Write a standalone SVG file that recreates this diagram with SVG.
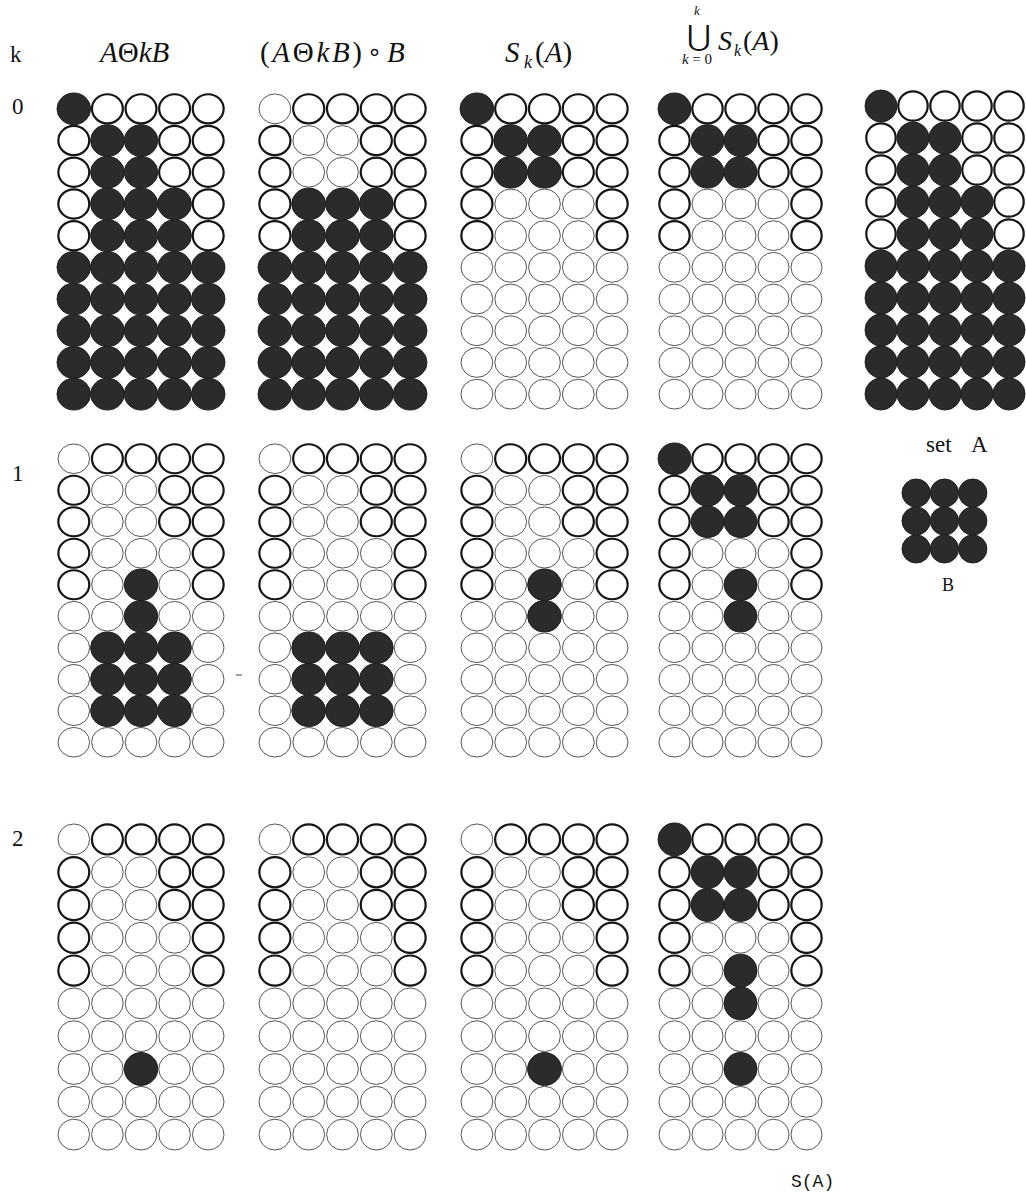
<svg xmlns="http://www.w3.org/2000/svg" xmlns:xlink="http://www.w3.org/1999/xlink" width="1026" height="1193" viewBox="0 0 1026 1193">
<style>
.dk{fill:#2b2b2b;stroke:#1e1e1e;stroke-width:1;vector-effect:non-scaling-stroke}
.tk{fill:#fff;stroke:#151515;stroke-width:2.2;vector-effect:non-scaling-stroke}
.tn{fill:#fff;stroke:#555;stroke-width:1;vector-effect:non-scaling-stroke}
text{font-family:"Liberation Serif","Times New Roman",serif;fill:#111}
.lab{font-size:23px}
.it{font-style:italic}
.up{font-style:normal}
</style>
<defs>
<circle id="d" cx=".5" cy=".5" r=".5" class="dk"/>
<circle id="t" cx=".5" cy=".5" r=".46" class="tk"/>
<circle id="n" cx=".5" cy=".5" r=".47" class="tn"/>
</defs>
<rect width="1026" height="1193" fill="#fff"/>
<g id="labels">
<text x="10" y="62" class="lab">k</text>
<text x="12" y="114" class="lab">0</text>
<text x="12" y="481" class="lab">1</text>
<text x="12" y="846" class="lab">2</text>
<text x="100" y="62" font-size="29" class="it">A<tspan class="up">Θ</tspan>kB</text>
<text x="260" y="62" font-size="29" class="it" textLength="102"><tspan class="up">(</tspan>A<tspan class="up">Θ</tspan>kB<tspan class="up">)</tspan></text>
<text x="367" y="60" font-size="24" style="font-family:'DejaVu Sans',sans-serif">∘</text>
<text x="387" y="62" font-size="29" class="it">B</text>
<text x="505" y="62" font-size="29" class="it">S</text>
<text x="524" y="68" font-size="18" class="it">k</text>
<text x="535" y="62" font-size="29"><tspan>(</tspan><tspan class="it">A</tspan><tspan>)</tspan></text>
<text x="699" y="46" font-size="29" text-anchor="middle" style="font-family:'DejaVu Serif',serif">⋃</text>
<text x="694" y="15" font-size="13" class="it">k</text>
<text x="682" y="64" font-size="15" textLength="30"><tspan class="it">k</tspan>=0</text>
<text x="718" y="50" font-size="28" class="it">S</text>
<text x="734" y="56" font-size="16" class="it">k</text>
<text x="743" y="50" font-size="28"><tspan>(</tspan><tspan class="it">A</tspan><tspan>)</tspan></text>
<text x="926" y="452" font-size="23">set</text>
<text x="971" y="452" font-size="23">A</text>
<text x="948" y="591" font-size="18" text-anchor="middle">B</text>
<text x="791" y="1187" font-size="18" style="font-family:'Liberation Mono','Courier New',monospace">S(A)</text>
</g>
<line x1="236" y1="675" x2="242" y2="675" stroke="#444" stroke-width="1"/>

<g id="g0r0" transform="translate(57,93) scale(33.6,31.7)">
<use href="#d" x="0" y="0"/><use href="#t" x="1" y="0"/><use href="#t" x="2" y="0"/><use href="#t" x="3" y="0"/><use href="#t" x="4" y="0"/>
<use href="#t" x="0" y="1"/><use href="#d" x="1" y="1"/><use href="#d" x="2" y="1"/><use href="#t" x="3" y="1"/><use href="#t" x="4" y="1"/>
<use href="#t" x="0" y="2"/><use href="#d" x="1" y="2"/><use href="#d" x="2" y="2"/><use href="#t" x="3" y="2"/><use href="#t" x="4" y="2"/>
<use href="#t" x="0" y="3"/><use href="#d" x="1" y="3"/><use href="#d" x="2" y="3"/><use href="#d" x="3" y="3"/><use href="#t" x="4" y="3"/>
<use href="#t" x="0" y="4"/><use href="#d" x="1" y="4"/><use href="#d" x="2" y="4"/><use href="#d" x="3" y="4"/><use href="#t" x="4" y="4"/>
<use href="#d" x="0" y="5"/><use href="#d" x="1" y="5"/><use href="#d" x="2" y="5"/><use href="#d" x="3" y="5"/><use href="#d" x="4" y="5"/>
<use href="#d" x="0" y="6"/><use href="#d" x="1" y="6"/><use href="#d" x="2" y="6"/><use href="#d" x="3" y="6"/><use href="#d" x="4" y="6"/>
<use href="#d" x="0" y="7"/><use href="#d" x="1" y="7"/><use href="#d" x="2" y="7"/><use href="#d" x="3" y="7"/><use href="#d" x="4" y="7"/>
<use href="#d" x="0" y="8"/><use href="#d" x="1" y="8"/><use href="#d" x="2" y="8"/><use href="#d" x="3" y="8"/><use href="#d" x="4" y="8"/>
<use href="#d" x="0" y="9"/><use href="#d" x="1" y="9"/><use href="#d" x="2" y="9"/><use href="#d" x="3" y="9"/><use href="#d" x="4" y="9"/>
</g>

<g id="g1r0" transform="translate(258,93) scale(33.8,31.7)">
<use href="#n" x="0" y="0"/><use href="#t" x="1" y="0"/><use href="#t" x="2" y="0"/><use href="#t" x="3" y="0"/><use href="#t" x="4" y="0"/>
<use href="#t" x="0" y="1"/><use href="#n" x="1" y="1"/><use href="#n" x="2" y="1"/><use href="#t" x="3" y="1"/><use href="#t" x="4" y="1"/>
<use href="#t" x="0" y="2"/><use href="#n" x="1" y="2"/><use href="#n" x="2" y="2"/><use href="#t" x="3" y="2"/><use href="#t" x="4" y="2"/>
<use href="#t" x="0" y="3"/><use href="#d" x="1" y="3"/><use href="#d" x="2" y="3"/><use href="#d" x="3" y="3"/><use href="#t" x="4" y="3"/>
<use href="#t" x="0" y="4"/><use href="#d" x="1" y="4"/><use href="#d" x="2" y="4"/><use href="#d" x="3" y="4"/><use href="#t" x="4" y="4"/>
<use href="#d" x="0" y="5"/><use href="#d" x="1" y="5"/><use href="#d" x="2" y="5"/><use href="#d" x="3" y="5"/><use href="#d" x="4" y="5"/>
<use href="#d" x="0" y="6"/><use href="#d" x="1" y="6"/><use href="#d" x="2" y="6"/><use href="#d" x="3" y="6"/><use href="#d" x="4" y="6"/>
<use href="#d" x="0" y="7"/><use href="#d" x="1" y="7"/><use href="#d" x="2" y="7"/><use href="#d" x="3" y="7"/><use href="#d" x="4" y="7"/>
<use href="#d" x="0" y="8"/><use href="#d" x="1" y="8"/><use href="#d" x="2" y="8"/><use href="#d" x="3" y="8"/><use href="#d" x="4" y="8"/>
<use href="#d" x="0" y="9"/><use href="#d" x="1" y="9"/><use href="#d" x="2" y="9"/><use href="#d" x="3" y="9"/><use href="#d" x="4" y="9"/>
</g>

<g id="g2r0" transform="translate(460,93) scale(33.8,31.7)">
<use href="#d" x="0" y="0"/><use href="#t" x="1" y="0"/><use href="#t" x="2" y="0"/><use href="#t" x="3" y="0"/><use href="#t" x="4" y="0"/>
<use href="#t" x="0" y="1"/><use href="#d" x="1" y="1"/><use href="#d" x="2" y="1"/><use href="#t" x="3" y="1"/><use href="#t" x="4" y="1"/>
<use href="#t" x="0" y="2"/><use href="#d" x="1" y="2"/><use href="#d" x="2" y="2"/><use href="#t" x="3" y="2"/><use href="#t" x="4" y="2"/>
<use href="#t" x="0" y="3"/><use href="#n" x="1" y="3"/><use href="#n" x="2" y="3"/><use href="#n" x="3" y="3"/><use href="#t" x="4" y="3"/>
<use href="#t" x="0" y="4"/><use href="#n" x="1" y="4"/><use href="#n" x="2" y="4"/><use href="#n" x="3" y="4"/><use href="#t" x="4" y="4"/>
<use href="#n" x="0" y="5"/><use href="#n" x="1" y="5"/><use href="#n" x="2" y="5"/><use href="#n" x="3" y="5"/><use href="#n" x="4" y="5"/>
<use href="#n" x="0" y="6"/><use href="#n" x="1" y="6"/><use href="#n" x="2" y="6"/><use href="#n" x="3" y="6"/><use href="#n" x="4" y="6"/>
<use href="#n" x="0" y="7"/><use href="#n" x="1" y="7"/><use href="#n" x="2" y="7"/><use href="#n" x="3" y="7"/><use href="#n" x="4" y="7"/>
<use href="#n" x="0" y="8"/><use href="#n" x="1" y="8"/><use href="#n" x="2" y="8"/><use href="#n" x="3" y="8"/><use href="#n" x="4" y="8"/>
<use href="#n" x="0" y="9"/><use href="#n" x="1" y="9"/><use href="#n" x="2" y="9"/><use href="#n" x="3" y="9"/><use href="#n" x="4" y="9"/>
</g>

<g id="g3r0" transform="translate(658,93) scale(33,31.7)">
<use href="#d" x="0" y="0"/><use href="#t" x="1" y="0"/><use href="#t" x="2" y="0"/><use href="#t" x="3" y="0"/><use href="#t" x="4" y="0"/>
<use href="#t" x="0" y="1"/><use href="#d" x="1" y="1"/><use href="#d" x="2" y="1"/><use href="#t" x="3" y="1"/><use href="#t" x="4" y="1"/>
<use href="#t" x="0" y="2"/><use href="#d" x="1" y="2"/><use href="#d" x="2" y="2"/><use href="#t" x="3" y="2"/><use href="#t" x="4" y="2"/>
<use href="#t" x="0" y="3"/><use href="#n" x="1" y="3"/><use href="#n" x="2" y="3"/><use href="#n" x="3" y="3"/><use href="#t" x="4" y="3"/>
<use href="#t" x="0" y="4"/><use href="#n" x="1" y="4"/><use href="#n" x="2" y="4"/><use href="#n" x="3" y="4"/><use href="#t" x="4" y="4"/>
<use href="#n" x="0" y="5"/><use href="#n" x="1" y="5"/><use href="#n" x="2" y="5"/><use href="#n" x="3" y="5"/><use href="#n" x="4" y="5"/>
<use href="#n" x="0" y="6"/><use href="#n" x="1" y="6"/><use href="#n" x="2" y="6"/><use href="#n" x="3" y="6"/><use href="#n" x="4" y="6"/>
<use href="#n" x="0" y="7"/><use href="#n" x="1" y="7"/><use href="#n" x="2" y="7"/><use href="#n" x="3" y="7"/><use href="#n" x="4" y="7"/>
<use href="#n" x="0" y="8"/><use href="#n" x="1" y="8"/><use href="#n" x="2" y="8"/><use href="#n" x="3" y="8"/><use href="#n" x="4" y="8"/>
<use href="#n" x="0" y="9"/><use href="#n" x="1" y="9"/><use href="#n" x="2" y="9"/><use href="#n" x="3" y="9"/><use href="#n" x="4" y="9"/>
</g>

<g id="setA" transform="translate(865,90) scale(32,32)">
<use href="#d" x="0" y="0"/><use href="#t" x="1" y="0"/><use href="#t" x="2" y="0"/><use href="#t" x="3" y="0"/><use href="#t" x="4" y="0"/>
<use href="#t" x="0" y="1"/><use href="#d" x="1" y="1"/><use href="#d" x="2" y="1"/><use href="#t" x="3" y="1"/><use href="#t" x="4" y="1"/>
<use href="#t" x="0" y="2"/><use href="#d" x="1" y="2"/><use href="#d" x="2" y="2"/><use href="#t" x="3" y="2"/><use href="#t" x="4" y="2"/>
<use href="#t" x="0" y="3"/><use href="#d" x="1" y="3"/><use href="#d" x="2" y="3"/><use href="#d" x="3" y="3"/><use href="#t" x="4" y="3"/>
<use href="#t" x="0" y="4"/><use href="#d" x="1" y="4"/><use href="#d" x="2" y="4"/><use href="#d" x="3" y="4"/><use href="#t" x="4" y="4"/>
<use href="#d" x="0" y="5"/><use href="#d" x="1" y="5"/><use href="#d" x="2" y="5"/><use href="#d" x="3" y="5"/><use href="#d" x="4" y="5"/>
<use href="#d" x="0" y="6"/><use href="#d" x="1" y="6"/><use href="#d" x="2" y="6"/><use href="#d" x="3" y="6"/><use href="#d" x="4" y="6"/>
<use href="#d" x="0" y="7"/><use href="#d" x="1" y="7"/><use href="#d" x="2" y="7"/><use href="#d" x="3" y="7"/><use href="#d" x="4" y="7"/>
<use href="#d" x="0" y="8"/><use href="#d" x="1" y="8"/><use href="#d" x="2" y="8"/><use href="#d" x="3" y="8"/><use href="#d" x="4" y="8"/>
<use href="#d" x="0" y="9"/><use href="#d" x="1" y="9"/><use href="#d" x="2" y="9"/><use href="#d" x="3" y="9"/><use href="#d" x="4" y="9"/>
</g>

<g id="setB" transform="translate(902,479) scale(28.3,28)">
<use href="#d" x="0" y="0"/><use href="#d" x="1" y="0"/><use href="#d" x="2" y="0"/>
<use href="#d" x="0" y="1"/><use href="#d" x="1" y="1"/><use href="#d" x="2" y="1"/>
<use href="#d" x="0" y="2"/><use href="#d" x="1" y="2"/><use href="#d" x="2" y="2"/>
</g>

<g id="g0r1" transform="translate(57,443) scale(33.6,31.5)">
<use href="#n" x="0" y="0"/><use href="#t" x="1" y="0"/><use href="#t" x="2" y="0"/><use href="#t" x="3" y="0"/><use href="#t" x="4" y="0"/>
<use href="#t" x="0" y="1"/><use href="#n" x="1" y="1"/><use href="#n" x="2" y="1"/><use href="#t" x="3" y="1"/><use href="#t" x="4" y="1"/>
<use href="#t" x="0" y="2"/><use href="#n" x="1" y="2"/><use href="#n" x="2" y="2"/><use href="#t" x="3" y="2"/><use href="#t" x="4" y="2"/>
<use href="#t" x="0" y="3"/><use href="#n" x="1" y="3"/><use href="#n" x="2" y="3"/><use href="#n" x="3" y="3"/><use href="#t" x="4" y="3"/>
<use href="#t" x="0" y="4"/><use href="#n" x="1" y="4"/><use href="#d" x="2" y="4"/><use href="#n" x="3" y="4"/><use href="#t" x="4" y="4"/>
<use href="#n" x="0" y="5"/><use href="#n" x="1" y="5"/><use href="#d" x="2" y="5"/><use href="#n" x="3" y="5"/><use href="#n" x="4" y="5"/>
<use href="#n" x="0" y="6"/><use href="#d" x="1" y="6"/><use href="#d" x="2" y="6"/><use href="#d" x="3" y="6"/><use href="#n" x="4" y="6"/>
<use href="#n" x="0" y="7"/><use href="#d" x="1" y="7"/><use href="#d" x="2" y="7"/><use href="#d" x="3" y="7"/><use href="#n" x="4" y="7"/>
<use href="#n" x="0" y="8"/><use href="#d" x="1" y="8"/><use href="#d" x="2" y="8"/><use href="#d" x="3" y="8"/><use href="#n" x="4" y="8"/>
<use href="#n" x="0" y="9"/><use href="#n" x="1" y="9"/><use href="#n" x="2" y="9"/><use href="#n" x="3" y="9"/><use href="#n" x="4" y="9"/>
</g>

<g id="g1r1" transform="translate(258,443) scale(33.8,31.5)">
<use href="#n" x="0" y="0"/><use href="#t" x="1" y="0"/><use href="#t" x="2" y="0"/><use href="#t" x="3" y="0"/><use href="#t" x="4" y="0"/>
<use href="#t" x="0" y="1"/><use href="#n" x="1" y="1"/><use href="#n" x="2" y="1"/><use href="#t" x="3" y="1"/><use href="#t" x="4" y="1"/>
<use href="#t" x="0" y="2"/><use href="#n" x="1" y="2"/><use href="#n" x="2" y="2"/><use href="#t" x="3" y="2"/><use href="#t" x="4" y="2"/>
<use href="#t" x="0" y="3"/><use href="#n" x="1" y="3"/><use href="#n" x="2" y="3"/><use href="#n" x="3" y="3"/><use href="#t" x="4" y="3"/>
<use href="#t" x="0" y="4"/><use href="#n" x="1" y="4"/><use href="#n" x="2" y="4"/><use href="#n" x="3" y="4"/><use href="#t" x="4" y="4"/>
<use href="#n" x="0" y="5"/><use href="#n" x="1" y="5"/><use href="#n" x="2" y="5"/><use href="#n" x="3" y="5"/><use href="#n" x="4" y="5"/>
<use href="#n" x="0" y="6"/><use href="#d" x="1" y="6"/><use href="#d" x="2" y="6"/><use href="#d" x="3" y="6"/><use href="#n" x="4" y="6"/>
<use href="#n" x="0" y="7"/><use href="#d" x="1" y="7"/><use href="#d" x="2" y="7"/><use href="#d" x="3" y="7"/><use href="#n" x="4" y="7"/>
<use href="#n" x="0" y="8"/><use href="#d" x="1" y="8"/><use href="#d" x="2" y="8"/><use href="#d" x="3" y="8"/><use href="#n" x="4" y="8"/>
<use href="#n" x="0" y="9"/><use href="#n" x="1" y="9"/><use href="#n" x="2" y="9"/><use href="#n" x="3" y="9"/><use href="#n" x="4" y="9"/>
</g>

<g id="g2r1" transform="translate(460,443) scale(33.8,31.5)">
<use href="#n" x="0" y="0"/><use href="#t" x="1" y="0"/><use href="#t" x="2" y="0"/><use href="#t" x="3" y="0"/><use href="#t" x="4" y="0"/>
<use href="#t" x="0" y="1"/><use href="#n" x="1" y="1"/><use href="#n" x="2" y="1"/><use href="#t" x="3" y="1"/><use href="#t" x="4" y="1"/>
<use href="#t" x="0" y="2"/><use href="#n" x="1" y="2"/><use href="#n" x="2" y="2"/><use href="#t" x="3" y="2"/><use href="#t" x="4" y="2"/>
<use href="#t" x="0" y="3"/><use href="#n" x="1" y="3"/><use href="#n" x="2" y="3"/><use href="#n" x="3" y="3"/><use href="#t" x="4" y="3"/>
<use href="#t" x="0" y="4"/><use href="#n" x="1" y="4"/><use href="#d" x="2" y="4"/><use href="#n" x="3" y="4"/><use href="#t" x="4" y="4"/>
<use href="#n" x="0" y="5"/><use href="#n" x="1" y="5"/><use href="#d" x="2" y="5"/><use href="#n" x="3" y="5"/><use href="#n" x="4" y="5"/>
<use href="#n" x="0" y="6"/><use href="#n" x="1" y="6"/><use href="#n" x="2" y="6"/><use href="#n" x="3" y="6"/><use href="#n" x="4" y="6"/>
<use href="#n" x="0" y="7"/><use href="#n" x="1" y="7"/><use href="#n" x="2" y="7"/><use href="#n" x="3" y="7"/><use href="#n" x="4" y="7"/>
<use href="#n" x="0" y="8"/><use href="#n" x="1" y="8"/><use href="#n" x="2" y="8"/><use href="#n" x="3" y="8"/><use href="#n" x="4" y="8"/>
<use href="#n" x="0" y="9"/><use href="#n" x="1" y="9"/><use href="#n" x="2" y="9"/><use href="#n" x="3" y="9"/><use href="#n" x="4" y="9"/>
</g>

<g id="g3r1" transform="translate(658,443) scale(33,31.5)">
<use href="#d" x="0" y="0"/><use href="#t" x="1" y="0"/><use href="#t" x="2" y="0"/><use href="#t" x="3" y="0"/><use href="#t" x="4" y="0"/>
<use href="#t" x="0" y="1"/><use href="#d" x="1" y="1"/><use href="#d" x="2" y="1"/><use href="#t" x="3" y="1"/><use href="#t" x="4" y="1"/>
<use href="#t" x="0" y="2"/><use href="#d" x="1" y="2"/><use href="#d" x="2" y="2"/><use href="#t" x="3" y="2"/><use href="#t" x="4" y="2"/>
<use href="#t" x="0" y="3"/><use href="#n" x="1" y="3"/><use href="#n" x="2" y="3"/><use href="#n" x="3" y="3"/><use href="#t" x="4" y="3"/>
<use href="#t" x="0" y="4"/><use href="#n" x="1" y="4"/><use href="#d" x="2" y="4"/><use href="#n" x="3" y="4"/><use href="#t" x="4" y="4"/>
<use href="#n" x="0" y="5"/><use href="#n" x="1" y="5"/><use href="#d" x="2" y="5"/><use href="#n" x="3" y="5"/><use href="#n" x="4" y="5"/>
<use href="#n" x="0" y="6"/><use href="#n" x="1" y="6"/><use href="#n" x="2" y="6"/><use href="#n" x="3" y="6"/><use href="#n" x="4" y="6"/>
<use href="#n" x="0" y="7"/><use href="#n" x="1" y="7"/><use href="#n" x="2" y="7"/><use href="#n" x="3" y="7"/><use href="#n" x="4" y="7"/>
<use href="#n" x="0" y="8"/><use href="#n" x="1" y="8"/><use href="#n" x="2" y="8"/><use href="#n" x="3" y="8"/><use href="#n" x="4" y="8"/>
<use href="#n" x="0" y="9"/><use href="#n" x="1" y="9"/><use href="#n" x="2" y="9"/><use href="#n" x="3" y="9"/><use href="#n" x="4" y="9"/>
</g>

<g id="g0r2" transform="translate(57,823) scale(33.6,32.8)">
<use href="#n" x="0" y="0"/><use href="#t" x="1" y="0"/><use href="#t" x="2" y="0"/><use href="#t" x="3" y="0"/><use href="#t" x="4" y="0"/>
<use href="#t" x="0" y="1"/><use href="#n" x="1" y="1"/><use href="#n" x="2" y="1"/><use href="#t" x="3" y="1"/><use href="#t" x="4" y="1"/>
<use href="#t" x="0" y="2"/><use href="#n" x="1" y="2"/><use href="#n" x="2" y="2"/><use href="#t" x="3" y="2"/><use href="#t" x="4" y="2"/>
<use href="#t" x="0" y="3"/><use href="#n" x="1" y="3"/><use href="#n" x="2" y="3"/><use href="#n" x="3" y="3"/><use href="#t" x="4" y="3"/>
<use href="#t" x="0" y="4"/><use href="#n" x="1" y="4"/><use href="#n" x="2" y="4"/><use href="#n" x="3" y="4"/><use href="#t" x="4" y="4"/>
<use href="#n" x="0" y="5"/><use href="#n" x="1" y="5"/><use href="#n" x="2" y="5"/><use href="#n" x="3" y="5"/><use href="#n" x="4" y="5"/>
<use href="#n" x="0" y="6"/><use href="#n" x="1" y="6"/><use href="#n" x="2" y="6"/><use href="#n" x="3" y="6"/><use href="#n" x="4" y="6"/>
<use href="#n" x="0" y="7"/><use href="#n" x="1" y="7"/><use href="#d" x="2" y="7"/><use href="#n" x="3" y="7"/><use href="#n" x="4" y="7"/>
<use href="#n" x="0" y="8"/><use href="#n" x="1" y="8"/><use href="#n" x="2" y="8"/><use href="#n" x="3" y="8"/><use href="#n" x="4" y="8"/>
<use href="#n" x="0" y="9"/><use href="#n" x="1" y="9"/><use href="#n" x="2" y="9"/><use href="#n" x="3" y="9"/><use href="#n" x="4" y="9"/>
</g>

<g id="g1r2" transform="translate(258,823) scale(33.8,32.8)">
<use href="#n" x="0" y="0"/><use href="#t" x="1" y="0"/><use href="#t" x="2" y="0"/><use href="#t" x="3" y="0"/><use href="#t" x="4" y="0"/>
<use href="#t" x="0" y="1"/><use href="#n" x="1" y="1"/><use href="#n" x="2" y="1"/><use href="#t" x="3" y="1"/><use href="#t" x="4" y="1"/>
<use href="#t" x="0" y="2"/><use href="#n" x="1" y="2"/><use href="#n" x="2" y="2"/><use href="#t" x="3" y="2"/><use href="#t" x="4" y="2"/>
<use href="#t" x="0" y="3"/><use href="#n" x="1" y="3"/><use href="#n" x="2" y="3"/><use href="#n" x="3" y="3"/><use href="#t" x="4" y="3"/>
<use href="#t" x="0" y="4"/><use href="#n" x="1" y="4"/><use href="#n" x="2" y="4"/><use href="#n" x="3" y="4"/><use href="#t" x="4" y="4"/>
<use href="#n" x="0" y="5"/><use href="#n" x="1" y="5"/><use href="#n" x="2" y="5"/><use href="#n" x="3" y="5"/><use href="#n" x="4" y="5"/>
<use href="#n" x="0" y="6"/><use href="#n" x="1" y="6"/><use href="#n" x="2" y="6"/><use href="#n" x="3" y="6"/><use href="#n" x="4" y="6"/>
<use href="#n" x="0" y="7"/><use href="#n" x="1" y="7"/><use href="#n" x="2" y="7"/><use href="#n" x="3" y="7"/><use href="#n" x="4" y="7"/>
<use href="#n" x="0" y="8"/><use href="#n" x="1" y="8"/><use href="#n" x="2" y="8"/><use href="#n" x="3" y="8"/><use href="#n" x="4" y="8"/>
<use href="#n" x="0" y="9"/><use href="#n" x="1" y="9"/><use href="#n" x="2" y="9"/><use href="#n" x="3" y="9"/><use href="#n" x="4" y="9"/>
</g>

<g id="g2r2" transform="translate(460,823) scale(33.8,32.8)">
<use href="#n" x="0" y="0"/><use href="#t" x="1" y="0"/><use href="#t" x="2" y="0"/><use href="#t" x="3" y="0"/><use href="#t" x="4" y="0"/>
<use href="#t" x="0" y="1"/><use href="#n" x="1" y="1"/><use href="#n" x="2" y="1"/><use href="#t" x="3" y="1"/><use href="#t" x="4" y="1"/>
<use href="#t" x="0" y="2"/><use href="#n" x="1" y="2"/><use href="#n" x="2" y="2"/><use href="#t" x="3" y="2"/><use href="#t" x="4" y="2"/>
<use href="#t" x="0" y="3"/><use href="#n" x="1" y="3"/><use href="#n" x="2" y="3"/><use href="#n" x="3" y="3"/><use href="#t" x="4" y="3"/>
<use href="#t" x="0" y="4"/><use href="#n" x="1" y="4"/><use href="#n" x="2" y="4"/><use href="#n" x="3" y="4"/><use href="#t" x="4" y="4"/>
<use href="#n" x="0" y="5"/><use href="#n" x="1" y="5"/><use href="#n" x="2" y="5"/><use href="#n" x="3" y="5"/><use href="#n" x="4" y="5"/>
<use href="#n" x="0" y="6"/><use href="#n" x="1" y="6"/><use href="#n" x="2" y="6"/><use href="#n" x="3" y="6"/><use href="#n" x="4" y="6"/>
<use href="#n" x="0" y="7"/><use href="#n" x="1" y="7"/><use href="#d" x="2" y="7"/><use href="#n" x="3" y="7"/><use href="#n" x="4" y="7"/>
<use href="#n" x="0" y="8"/><use href="#n" x="1" y="8"/><use href="#n" x="2" y="8"/><use href="#n" x="3" y="8"/><use href="#n" x="4" y="8"/>
<use href="#n" x="0" y="9"/><use href="#n" x="1" y="9"/><use href="#n" x="2" y="9"/><use href="#n" x="3" y="9"/><use href="#n" x="4" y="9"/>
</g>

<g id="g3r2" transform="translate(658,823) scale(33,32.8)">
<use href="#d" x="0" y="0"/><use href="#t" x="1" y="0"/><use href="#t" x="2" y="0"/><use href="#t" x="3" y="0"/><use href="#t" x="4" y="0"/>
<use href="#t" x="0" y="1"/><use href="#d" x="1" y="1"/><use href="#d" x="2" y="1"/><use href="#t" x="3" y="1"/><use href="#t" x="4" y="1"/>
<use href="#t" x="0" y="2"/><use href="#d" x="1" y="2"/><use href="#d" x="2" y="2"/><use href="#t" x="3" y="2"/><use href="#t" x="4" y="2"/>
<use href="#t" x="0" y="3"/><use href="#n" x="1" y="3"/><use href="#n" x="2" y="3"/><use href="#n" x="3" y="3"/><use href="#t" x="4" y="3"/>
<use href="#t" x="0" y="4"/><use href="#n" x="1" y="4"/><use href="#d" x="2" y="4"/><use href="#n" x="3" y="4"/><use href="#t" x="4" y="4"/>
<use href="#n" x="0" y="5"/><use href="#n" x="1" y="5"/><use href="#d" x="2" y="5"/><use href="#n" x="3" y="5"/><use href="#n" x="4" y="5"/>
<use href="#n" x="0" y="6"/><use href="#n" x="1" y="6"/><use href="#n" x="2" y="6"/><use href="#n" x="3" y="6"/><use href="#n" x="4" y="6"/>
<use href="#n" x="0" y="7"/><use href="#n" x="1" y="7"/><use href="#d" x="2" y="7"/><use href="#n" x="3" y="7"/><use href="#n" x="4" y="7"/>
<use href="#n" x="0" y="8"/><use href="#n" x="1" y="8"/><use href="#n" x="2" y="8"/><use href="#n" x="3" y="8"/><use href="#n" x="4" y="8"/>
<use href="#n" x="0" y="9"/><use href="#n" x="1" y="9"/><use href="#n" x="2" y="9"/><use href="#n" x="3" y="9"/><use href="#n" x="4" y="9"/>
</g>
<g id="connectors"/>
</svg>
